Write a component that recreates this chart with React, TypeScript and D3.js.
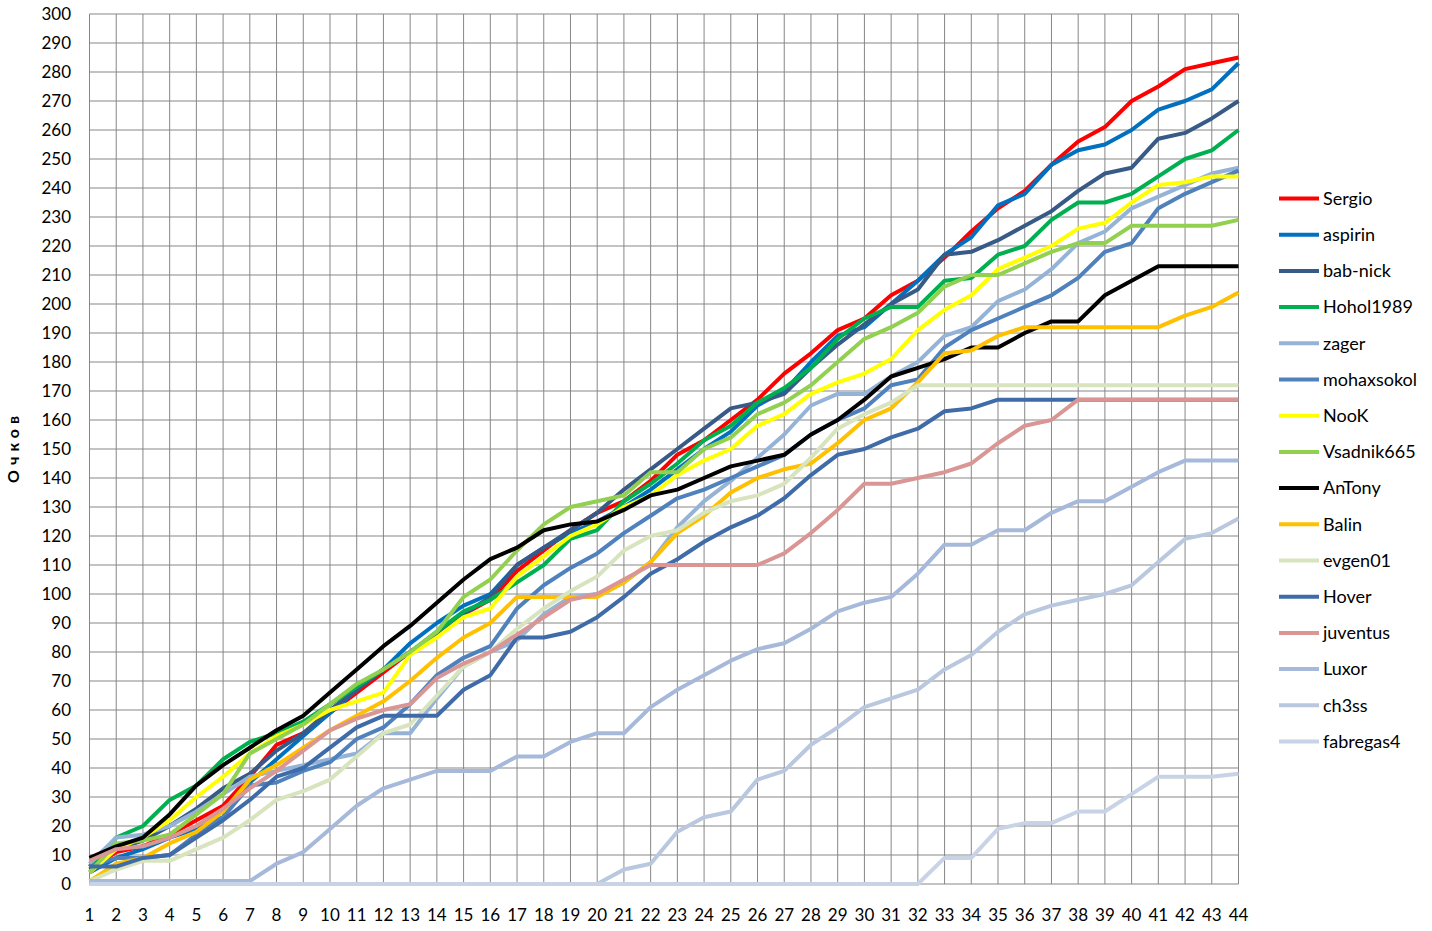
import React from "react";
import * as d3 from "d3";

const rounds: number[] = d3.range(1, 45);
const yTicks: number[] = d3.range(0, 301, 10);

const names: string[] = ["Sergio","aspirin","bab-nick","Hohol1989","zager","mohaxsokol","NooK","Vsadnik665","AnTony","Balin","evgen01","Hover","juventus","Luxor","ch3ss","fabregas4"];
const colors: string[] = ["#FF0000","#0070C0","#375A87","#00B050","#95B3D7","#4F81BD","#FFFF00","#92D050","#000000","#FFC000","#D7E4BD","#3F6CA8","#D99694","#A7B9DA","#B9C7DF","#C8D3E5"];

const Sergio = [5,11,13,17,22,27,37,48,52,59,66,73,80,86,93,98,108,115,122,128,132,139,148,153,160,167,176,183,191,195,203,208,216,225,233,239,248,256,261,270,275,281,283,285];
const aspirin = [4,9,12,16,19,23,35,43,51,59,67,74,83,90,96,100,110,116,121,125,130,136,143,150,156,165,170,180,189,192,200,208,217,223,234,238,248,253,255,260,267,270,274,283];
const babNick = [6,12,15,20,26,33,38,46,52,60,67,74,80,86,93,99,110,116,122,128,136,143,150,157,164,166,169,178,186,193,200,205,217,218,222,227,232,239,245,247,257,259,264,270];
const Hohol1989 = [6,16,20,29,34,43,49,52,56,62,68,74,80,87,94,98,104,110,119,122,132,138,145,153,158,166,171,178,188,195,199,199,208,209,217,220,229,235,235,238,244,250,253,260];
const zager = [7,16,17,20,25,31,37,39,41,43,45,52,52,64,75,80,84,93,99,100,104,111,123,132,139,147,155,165,169,169,175,180,189,192,201,205,212,221,225,233,237,241,245,247];
const mohaxsokol = [6,9,9,10,17,23,34,35,39,42,50,54,62,72,78,82,95,103,109,114,121,127,133,136,140,144,148,155,160,164,172,174,185,191,195,199,203,209,218,221,233,238,242,246];
const NooK = [4,12,16,22,30,37,45,51,55,60,63,66,79,85,92,95,106,113,120,124,130,134,141,146,150,158,162,169,173,176,181,191,198,203,212,216,220,226,228,235,241,242,244,244];
const Vsadnik665 = [4,14,15,17,24,31,45,50,55,62,69,74,80,87,99,105,115,124,130,132,134,142,142,150,154,162,166,172,180,188,192,197,206,210,210,214,218,221,221,227,227,227,227,229];
const AnTony = [9,13,16,24,34,41,47,53,58,66,74,82,89,97,105,112,116,122,124,125,129,134,136,140,144,146,148,155,160,167,175,178,181,185,185,190,194,194,203,208,213,213,213,213];
const Balin = [1,7,9,14,18,25,36,41,47,53,58,63,70,78,85,90,99,99,99,99,104,111,121,127,135,140,143,145,152,160,164,173,183,184,189,192,192,192,192,192,192,196,199,204];
const evgen01 = [1,5,8,8,12,16,22,29,32,36,44,52,55,65,75,80,88,95,101,106,115,120,122,128,132,134,138,147,157,162,166,172,172,172,172,172,172,172,172,172,172,172,172,172];
const Hover = [6,6,9,10,16,22,29,37,40,47,54,58,58,58,67,72,85,85,87,92,99,107,112,118,123,127,133,141,148,150,154,157,163,164,167,167,167,167,167,167,167,167,167,167];
const juventus = [8,12,13,16,20,26,33,39,46,53,57,60,62,71,76,80,86,92,98,100,105,110,110,110,110,110,114,121,129,138,138,140,142,145,152,158,160,167,167,167,167,167,167,167];
const Luxor = [1,1,1,1,1,1,1,7,11,19,27,33,36,39,39,39,44,44,49,52,52,61,67,72,77,81,83,88,94,97,99,107,117,117,122,122,128,132,132,137,142,146,146,146];
const ch3ss = [0,0,0,0,0,0,0,0,0,0,0,0,0,0,0,0,0,0,0,0,5,7,18,23,25,36,39,48,54,61,64,67,74,79,87,93,96,98,100,103,111,119,121,126];
const fabregas4 = [0,0,0,0,0,0,0,0,0,0,0,0,0,0,0,0,0,0,0,0,0,0,0,0,0,0,0,0,0,0,0,0,9,9,19,21,21,25,25,31,37,37,37,38];

const seriesValues: number[][] = [Sergio, aspirin, babNick, Hohol1989, zager, mohaxsokol, NooK, Vsadnik665, AnTony, Balin, evgen01, Hover, juventus, Luxor, ch3ss, fabregas4];

const FONT = "Lato, 'Open Sans', sans-serif";

export default function App() {
  const x = d3.scaleLinear().domain([1, 44]).range([89.5, 1238.5]);
  const y = d3.scaleLinear().domain([0, 300]).range([884, 14]);
  const line = d3.line<number>().x((_, i) => x(rounds[i])).y((v) => y(v));
  const grid = "#878787";
  return (
    <svg width={1432} height={931} style={{ position: "absolute", left: 0, top: 0, background: "#fff" }} fontFamily={FONT}>
      {yTicks.map((t) => (
        <line key={"h" + t} x1={x(1)} x2={x(44)} y1={y(t)} y2={y(t)} stroke={grid} strokeWidth={1} />
      ))}
      {rounds.map((r) => (
        <line key={"v" + r} x1={x(r)} x2={x(r)} y1={y(0)} y2={y(300)} stroke={grid} strokeWidth={1} />
      ))}
      {yTicks.map((t) => (
        <text key={"yl" + t} x={71} y={y(t)} dy="0.35em" textAnchor="end" fontSize={17} fill="#000">{t}</text>
      ))}
      {rounds.map((r) => (
        <text key={"xl" + r} x={x(r)} y={915} dy="0.35em" textAnchor="middle" fontSize={17} fill="#000">{r}</text>
      ))}
      <text transform="translate(19,447) rotate(-90)" textAnchor="middle" fontSize={16} fontWeight="bold" letterSpacing={5} fill="#000">Очков</text>
      {seriesValues.map((vals, i) => (
        <path key={names[i]} d={line(vals) || ""} fill="none" stroke={colors[i]} strokeWidth={4} strokeLinejoin="round" />
      ))}
      {names.map((n, i) => {
        const ly = 198.5 + i * 36.2;
        return (
          <g key={"lg" + n}>
            <line x1={1279} x2={1319} y1={ly} y2={ly} stroke={colors[i]} strokeWidth={4} />
            <text x={1323} y={ly} dy="0.35em" fontSize={18} fill="#000">{n}</text>
          </g>
        );
      })}
    </svg>
  );
}
